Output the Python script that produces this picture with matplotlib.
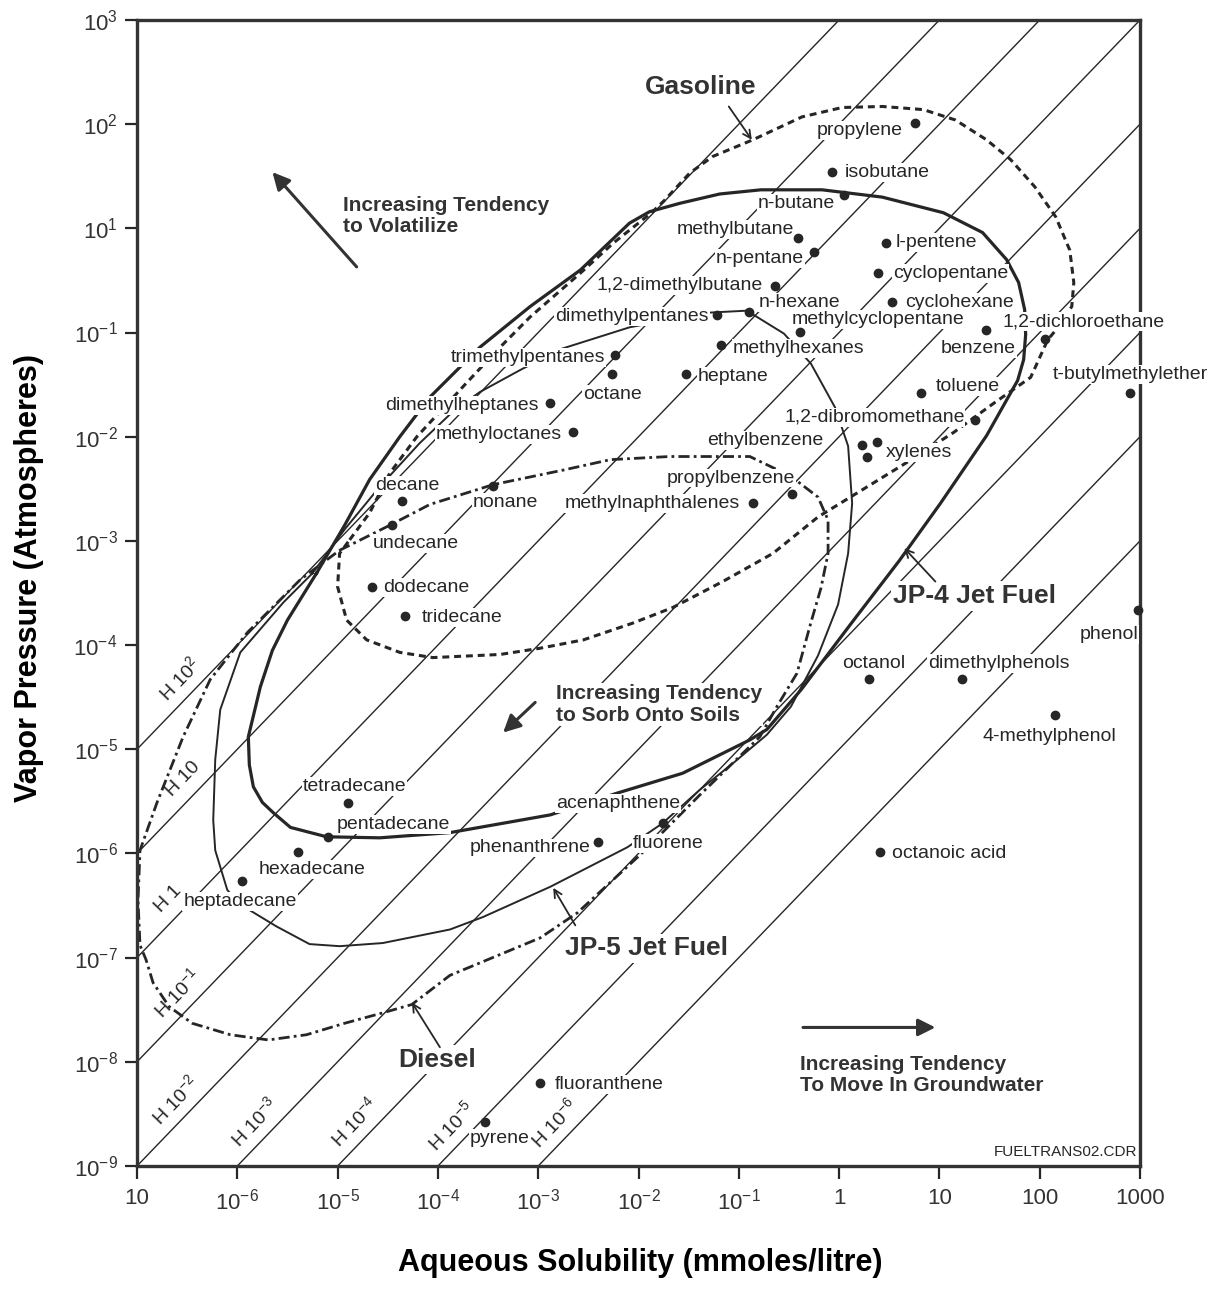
import matplotlib
matplotlib.use("Agg")
import matplotlib.pyplot as plt
from matplotlib.ticker import NullLocator
import numpy as np

plt.rcParams['font.family'] = ['Liberation Sans', 'DejaVu Sans']
plt.rcParams['mathtext.fontset'] = 'custom'
plt.rcParams['mathtext.rm'] = 'Liberation Sans'
plt.rcParams['mathtext.it'] = 'Liberation Sans:italic'
plt.rcParams['mathtext.bf'] = 'Liberation Sans:bold'
plt.rcParams['mathtext.default'] = 'regular'
plt.rcParams['lines.scale_dashes'] = False

# ---------------- data (all values are log10) ----------------
x_tick_exp = list(range(-7, 4))
x_tick_labels = ['10', '10$^{-6}$', '10$^{-5}$', '10$^{-4}$', '10$^{-3}$', '10$^{-2}$',
                 '10$^{-1}$', '1', '10', '100', '1000']
y_tick_exp = list(range(-9, 3))
y_tick_labels = ['10$^{-9}$', '10$^{-8}$', '10$^{-7}$', '10$^{-6}$', '10$^{-5}$', '10$^{-4}$',
                 '10$^{-3}$', '10$^{-2}$', '10$^{-1}$', '10$^{1}$', '10$^{2}$', '10$^{3}$']

# Henry's constant lines: log VP = log S + h
h_exp = [2, 1, 0, -1, -2, -3, -4, -5, -6]
h_labels = ['H 10$^{2}$', 'H 10', 'H 1', 'H 10$^{-1}$', 'H 10$^{-2}$', 'H 10$^{-3}$',
            'H 10$^{-4}$', 'H 10$^{-5}$', 'H 10$^{-6}$']
h_label_logS = [-6.45, -6.41, -6.56, -6.47, -6.49, -5.70, -4.70, -3.74, -2.71]

chem_names = ['propylene', 'isobutane', 'n-butane', 'methylbutane', 'l-pentene', 'n-pentane',
              'cyclopentane', '1,2-dimethylbutane', 'cyclohexane', 'n-hexane', 'dimethylpentanes',
              'methylcyclopentane', 'benzene', '1,2-dichloroethane', 'methylhexanes',
              'trimethylpentanes', 'octane', 'heptane', 't-butylmethylether', 'toluene',
              'dimethylheptanes', '1,2-dibromomethane', 'methyloctanes', 'ethylbenzene',
              'xylenes', '', 'propylbenzene', 'methylnaphthalenes', 'nonane', 'decane',
              'undecane', 'dodecane', 'tridecane', 'phenol', 'octanol', 'dimethylphenols',
              '4-methylphenol', 'tetradecane', 'pentadecane', 'fluorene', 'phenanthrene',
              'octanoic acid', 'hexadecane', 'heptadecane', 'fluoranthene', 'pyrene']
chem_logS = [0.76, -0.07, 0.05, -0.41, 0.47, -0.25, 0.39, -0.64, 0.53, -0.90, -1.22,
             -0.39, 1.46, 2.05, -1.18, -2.23, -2.26, -1.53, 2.90, 0.82,
             -2.88, 1.35, -2.65, 0.23, 0.38, 0.28, -0.47, -0.86, -3.45, -4.36,
             -4.46, -4.66, -4.33, 2.98, 0.30, 1.23, 2.15, -4.90, -5.10, -1.76, -2.40,
             0.41, -5.39, -5.95, -2.98, -3.53]
chem_logVP = [1.01, 0.54, 0.32, -0.09, -0.14, -0.23, -0.43, -0.55, -0.71, -0.80, -0.83,
              -0.99, -0.98, -1.06, -1.12, -1.22, -1.40, -1.40, -1.58, -1.58,
              -1.68, -1.84, -1.95, -2.08, -2.05, -2.19, -2.55, -2.64, -2.47, -2.62,
              -2.85, -3.44, -3.72, -3.66, -4.33, -4.33, -4.67, -5.52, -5.84, -5.71, -5.89,
              -5.99, -5.99, -6.26, -8.20, -8.58]

# label placement (offset in pixels from the dot, horizontal alignment)
chem_label_dx = [-13, 13, -9, -4, 9, -10, 15, -12, 13, 10, -8, -8, -45, -42, 12, -10, -29, 12,
                 -77, 14, -12, -10, -11, -39, 9, 0, 3, -13, -20, -27, -19, 11, 17, 0, -27, -34,
                 -72, -45, 9, -30, -8, 12, -40, -59, 15, -15]
chem_label_dy = [-7, 0, -8, 8, 0, -6, 0, 0, 0, 9, -2, 12, -18, 17, -3, -2, -20, -2,
                 18, 6, -2, 3, -3, 5, -11, 0, 16, 0, -17, 16, -18, -1, -2, -25, 16, 16,
                 -22, 17, 12, -20, -6, -1, -17, -21, -2, -16]
chem_label_ha = ['right', 'left', 'right', 'right', 'left', 'right', 'left', 'right', 'left',
                 'left', 'right', 'left', 'left', 'left', 'left', 'right', 'left', 'left',
                 'left', 'left', 'right', 'right', 'right', 'right', 'left', 'left', 'right',
                 'right', 'left', 'left', 'left', 'left', 'left', 'right', 'left', 'left',
                 'left', 'left', 'left', 'left', 'right', 'left', 'left', 'left', 'left', 'left']

# fuel envelopes (log10 solubility, log10 vapour pressure)
gas_logS = [-4.88, -4.68, -4.48, -4.21, -3.75, -3.41, -3.08, -2.58, -2.25, -1.87, -1.74, -1.49,
            -1.26, -0.86, -0.37, 0.03, 0.43, 0.84, 1.16, 1.47, 1.71, 1.95, 2.16, 2.30, 2.34,
            2.32, 2.20, 2.08, 1.91, 1.54, 1.14, 0.67, 0.23, -0.21, -0.66, -1.16, -1.66, -2.06,
            -2.55, -2.98, -3.38, -4.05, -4.38, -4.71, -4.91, -5.00, -4.98, -4.88]
gas_logVP = [-2.99, -2.73, -2.35, -2.00, -1.52, -1.17, -0.85, -0.43, -0.14, 0.15, 0.27, 0.53,
             0.69, 0.85, 1.07, 1.16, 1.17, 1.14, 1.04, 0.85, 0.66, 0.40, 0.11, -0.21, -0.52,
             -0.75, -0.93, -1.07, -1.43, -1.68, -1.96, -2.25, -2.51, -2.77, -3.12, -3.39, -3.64,
             -3.79, -3.95, -4.03, -4.09, -4.12, -4.07, -3.95, -3.76, -3.44, -3.12, -2.99]

jp4_logS = [-5.21, -4.93, -4.68, -4.38, -4.08, -3.58, -3.08, -2.58, -2.09, -1.89, -1.59, -1.19,
            -0.78, -0.17, 0.43, 1.04, 1.43, 1.67, 1.79, 1.85, 1.86, 1.84, 1.78, 1.47, 1.01,
            0.60, 0.13, -0.38, -0.72, -0.89, -1.12, -1.56, -2.21, -2.88, -3.88, -4.58, -5.11,
            -5.47, -5.64, -5.75, -5.84, -5.88, -5.89, -5.77, -5.65, -5.50, -5.21]
jp4_logVP = [-3.31, -2.85, -2.41, -2.00, -1.62, -1.14, -0.75, -0.40, 0.05, 0.16, 0.24, 0.33,
             0.37, 0.37, 0.30, 0.15, -0.04, -0.30, -0.52, -0.78, -1.02, -1.26, -1.46, -1.99,
             -2.64, -3.19, -3.78, -4.43, -4.81, -4.91, -5.02, -5.23, -5.42, -5.63, -5.80, -5.85,
             -5.84, -5.75, -5.61, -5.51, -5.36, -5.15, -4.88, -4.40, -4.05, -3.76, -3.31]

jp5_logS = [-5.25, -4.93, -4.58, -4.18, -3.83, -3.58, -3.18, -2.78, -2.09, -1.32, -0.92, -0.55,
            -0.28, -0.04, 0.09, 0.13, 0.09, -0.01, -0.21, -0.48, -0.72, -1.04, -1.39, -1.76,
            -2.11, -2.88, -3.55, -3.88, -4.55, -4.98, -5.28, -5.61, -5.97, -6.10, -6.22, -6.24,
            -6.22, -6.17, -5.97, -5.54, -5.25]
jp5_logVP = [-3.31, -2.89, -2.48, -2.06, -1.74, -1.57, -1.36, -1.16, -0.95, -0.81, -0.79, -1.01,
             -1.30, -1.72, -2.09, -2.64, -3.12, -3.61, -4.10, -4.59, -4.86, -5.12, -5.39, -5.71,
             -5.94, -6.32, -6.61, -6.73, -6.86, -6.89, -6.87, -6.70, -6.49, -6.35, -5.97, -5.68,
             -5.10, -4.62, -4.07, -3.59, -3.31]

dsl_logS = [-4.98, -4.48, -4.08, -3.45, -2.75, -2.28, -1.69, -0.89, -0.48, -0.21, -0.11, -0.11,
            -0.18, -0.28, -0.42, -0.62, -0.79, -1.39, -1.98, -2.61, -2.98, -3.38, -3.88, -4.26,
            -4.55, -4.93, -5.31, -5.69, -6.07, -6.45, -6.68, -6.84, -6.91, -6.97, -6.99, -6.97,
            -6.80, -6.54, -6.27, -5.90, -5.37, -4.98]
dsl_logVP = [-3.09, -2.85, -2.65, -2.46, -2.32, -2.22, -2.19, -2.19, -2.38, -2.58, -2.80, -3.12,
             -3.45, -3.78, -4.27, -4.59, -4.88, -5.44, -6.01, -6.57, -6.81, -6.97, -7.17, -7.45,
             -7.53, -7.63, -7.74, -7.79, -7.74, -7.63, -7.47, -7.24, -7.02, -6.88, -6.45, -5.97,
             -5.51, -4.88, -4.33, -3.88, -3.37, -3.09]

# ---------------- figure ----------------
INK = '#262626'
fig = plt.figure(figsize=(12.25, 12.89), dpi=100)
ax = fig.add_axes([137 / 1225, 1 - 1166 / 1289, 1003 / 1225, 1146 / 1289])
ax.set_xscale('log')
ax.set_yscale('log')
ax.set_xlim(1e-7, 1e3)
ax.set_ylim(1e-9, 1e2)

P = lambda a: 10.0 ** np.asarray(a, dtype=float)

# Henry lines
xs = P([-7, 3])
for h in h_exp:
    ax.plot(xs, xs * 10.0 ** h, color=INK, lw=1.0, zorder=1)
for h, lab, s in zip(h_exp, h_labels, h_label_logS):
    ax.annotate(lab, xy=(P(s), P(s + h)), xytext=(-13, 13), textcoords='offset pixels',
                rotation=46, rotation_mode='anchor', ha='center', va='center',
                fontsize=14, color=INK, zorder=3)

# fuel envelopes
ax.plot(P(gas_logS), P(gas_logVP), color=INK, lw=2.2, dashes=(5, 3.5), zorder=2)
ax.plot(P(jp4_logS), P(jp4_logVP), color=INK, lw=2.3, zorder=2)
ax.plot(P(jp5_logS), P(jp5_logVP), color=INK, lw=1.4, zorder=2)
ax.plot(P(dsl_logS), P(dsl_logVP), color=INK, lw=2.0, dashes=(8, 3, 2, 3), zorder=2)

# chemicals
for name, s, v, dx, dy, ha in zip(chem_names, chem_logS, chem_logVP,
                                  chem_label_dx, chem_label_dy, chem_label_ha):
    if name:
        ax.annotate(name, xy=(P(s), P(v)), xytext=(dx, dy), textcoords='offset pixels',
                    ha=ha, va='center', fontsize=14, color=INK, zorder=4,
                    bbox=dict(boxstyle='square,pad=0.05', fc='white', ec='none'))
ax.plot(P(chem_logS), P(chem_logVP), 'o', ms=6, color=INK, zorder=5, clip_on=False)
ax.text(P(-2.82), P(-5.52), 'acenaphthene', ha='left', va='center', fontsize=14, color=INK,
        zorder=4, bbox=dict(boxstyle='square,pad=0.05', fc='white', ec='none'))

# fuel names and pointers
for txt, s, v in [('Gasoline', -1.94, 1.36), ('JP-4 Jet Fuel', 0.54, -3.53),
                  ('JP-5 Jet Fuel', -2.73, -6.91), ('Diesel', -4.40, -7.98)]:
    ax.text(P(s), P(v), txt, ha='left', va='center', fontsize=19, fontweight='bold',
            color='#333333', zorder=4, bbox=dict(boxstyle='square,pad=0.1', fc='white', ec='none'))
for (ts, tv), (hs, hv) in [((-1.10, 1.17), (-0.87, 0.85)), ((0.96, -3.39), (0.65, -3.07)),
                           ((-2.63, -6.69), (-2.85, -6.33)), ((-3.98, -7.86), (-4.26, -7.43))]:
    ax.annotate('', xy=(P(hs), P(hv)), xytext=(P(ts), P(tv)),
                arrowprops=dict(arrowstyle='->', color=INK, lw=1.3, mutation_scale=14,
                                shrinkA=0, shrinkB=0), zorder=4)

# tendency notes
for txt, s, v in [('Increasing Tendency\nto Volatilize', -4.95, 0.12),
                  ('Increasing Tendency\nto Sorb Onto Soils', -2.82, -4.57),
                  ('Increasing Tendency\nTo Move In Groundwater', -0.39, -8.13)]:
    ax.text(P(s), P(v), txt, ha='left', va='center', fontsize=15, fontweight='bold',
            color='#333333', linespacing=1.15, zorder=4,
            bbox=dict(boxstyle='square,pad=0.05', fc='white', ec='none'))
for (ts, tv), (hs, hv) in [((-4.81, -0.37), (-5.65, 0.54)), ((-3.03, -4.55), (-3.35, -4.84)),
                           ((-0.36, -7.67), (0.96, -7.67))]:
    ax.annotate('', xy=(P(hs), P(hv)), xytext=(P(ts), P(tv)),
                arrowprops=dict(arrowstyle='-|>', color='#333333', lw=2.2, mutation_scale=26,
                                shrinkA=0, shrinkB=0), zorder=4)

ax.text(0.997, 0.006, 'FUELTRANS02.CDR', transform=ax.transAxes, ha='right', va='bottom',
        fontsize=11, color=INK, zorder=6)

# axes styling
ax.set_xticks(P(x_tick_exp))
ax.set_xticklabels(x_tick_labels)
ax.set_yticks(P(y_tick_exp))
ax.set_yticklabels(y_tick_labels)
ax.xaxis.set_minor_locator(NullLocator())
ax.yaxis.set_minor_locator(NullLocator())
ax.tick_params(direction='out', length=9, width=1.6, color=INK, labelsize=16,
               labelcolor='#333333')
ax.tick_params(axis='x', pad=7)
ax.tick_params(axis='y', pad=5)
for sp in ax.spines.values():
    sp.set_linewidth(2.4)
    sp.set_color('#333333')

fig.text(640 / 1225, 1 - 1263 / 1289, 'Aqueous Solubility (mmoles/litre)', ha='center',
         va='center', fontsize=22, fontweight='bold', color='black')
fig.text(29 / 1225, 1 - 578 / 1289, 'Vapor Pressure (Atmospheres)', ha='center', va='center',
         rotation=90, fontsize=22, fontweight='bold', color='black')

fig.savefig('out.png', dpi=100, facecolor='white')
